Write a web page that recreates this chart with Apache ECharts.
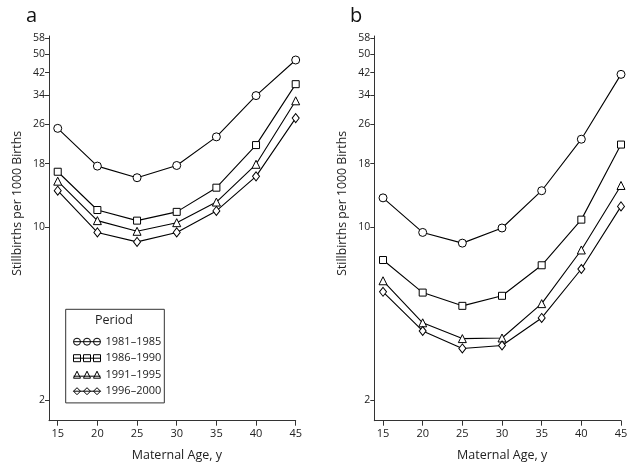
<!DOCTYPE html>
<html>
<head>
<meta charset="utf-8">
<script src="https://cdn.jsdelivr.net/npm/echarts@6/dist/echarts.min.js"></script>
<style>html,body{margin:0;padding:0;background:#fff}#c{width:640px;height:468px}</style>
</head>
<body>
<div id="c"></div>
<script>
// ---- data ----
var ages = [15, 20, 25, 30, 35, 40, 45];
var periods = ['1981\u20131985', '1986\u20131990', '1991\u20131995', '1996\u20132000'];
var a1981 = [25.0, 17.6, 15.8, 17.7, 23.1, 33.9, 47.2];
var a1986 = [16.7, 11.7, 10.6, 11.5, 14.4, 21.4, 37.7];
var a1991 = [15.3, 10.6, 9.6, 10.4, 12.6, 17.9, 32.3];
var a1996 = [14.0, 9.5, 8.7, 9.5, 11.6, 16.0, 27.5];
var b1981 = [13.1, 9.5, 8.6, 9.9, 14.0, 22.6, 41.3];
var b1986 = [7.35, 5.43, 4.8, 5.27, 7.0, 10.7, 21.5];
var b1991 = [6.06, 4.1, 3.54, 3.56, 4.9, 8.07, 14.7];
var b1996 = [5.47, 3.8, 3.23, 3.32, 4.29, 6.76, 12.1];
var yTicks = [2, 10, 18, 26, 34, 42, 50, 58];
var xTicks = [15, 20, 25, 30, 35, 40, 45];
var panelLabels = ['a', 'b'];
var yName = 'Stillbirths per 1000 Births';
var xName = 'Maternal Age, y';
var legendTitle = 'Period';

// ---- styling ----
var FONT = '"Open Sans", "DejaVu Sans", sans-serif';
var symbols = ['circle', 'rect', 'triangle', 'diamond'];
var symbolSizes = [8, 7, 8, [7, 9]];
var legendIcons = [
  'path://M0 3.5L27 3.5M0 3.5A3.5 3.5 0 1 0 7 3.5A3.5 3.5 0 1 0 0 3.5M10 3.5A3.5 3.5 0 1 0 17 3.5A3.5 3.5 0 1 0 10 3.5M20 3.5A3.5 3.5 0 1 0 27 3.5A3.5 3.5 0 1 0 20 3.5',
  'path://M0 3.5L27 3.5M0 0L7 0L7 7L0 7ZM10 0L17 0L17 7L10 7ZM20 0L27 0L27 7L20 7Z',
  'path://M0 5L27 5M3.5 0L7 7L0 7ZM13.5 0L17 7L10 7ZM23.5 0L27 7L20 7Z',
  'path://M0 3.5L27 3.5M3.5 0L7 3.5L3.5 7L0 3.5ZM13.5 0L17 3.5L13.5 7L10 3.5ZM23.5 0L27 3.5L23.5 7L20 3.5Z'
];
var panelData = [[a1981, a1986, a1991, a1996], [b1981, b1986, b1991, b1996]];

function pairs(xs, ys) { return xs.map(function (x, i) { return [x, ys[i]]; }); }

var grids = [
  { left: 49, top: 36, width: 246.7, height: 384.7 },
  { left: 374.3, top: 36, width: 246.7, height: 384.7 }
];

var xAxes = [], yAxes = [], series = [];
for (var g = 0; g < 2; g++) {
  xAxes.push({
    gridIndex: g, type: 'value', min: 13.9, max: 45,
    name: xName, nameLocation: 'middle', nameGap: 28,
    nameTextStyle: { fontFamily: FONT, fontSize: 12.5, color: '#222', padding: [0, 0, 0, 9] },
    axisLine: { show: true, lineStyle: { color: '#333', width: 1 } },
    axisTick: { show: true, length: 5, customValues: xTicks, lineStyle: { color: '#333' } },
    axisLabel: { customValues: xTicks, margin: 8, fontFamily: FONT, fontSize: 11, color: '#222' },
    splitLine: { show: false }
  });
  yAxes.push({
    gridIndex: g, type: 'log', logBase: 10, min: 1.65, max: 59,
    name: yName, nameLocation: 'middle', nameGap: 26, nameRotate: 90,
    nameTextStyle: { fontFamily: FONT, fontSize: 12.3, color: '#222', padding: [0, 0, 0, 50] },
    axisLine: { show: true, lineStyle: { color: '#333', width: 1 } },
    axisTick: { show: true, length: 4, customValues: yTicks, lineStyle: { color: '#333' } },
    minorTick: { show: false },
    axisLabel: { customValues: yTicks, margin: 4, fontFamily: FONT, fontSize: 10.5, color: '#222' },
    splitLine: { show: false }
  });
  for (var s = 0; s < 4; s++) {
    series.push({
      name: periods[s], type: 'line', xAxisIndex: g, yAxisIndex: g,
      data: pairs(ages, panelData[g][s]),
      symbol: symbols[s], symbolSize: symbolSizes[s], showSymbol: true,
      lineStyle: { color: '#000', width: 1.1 },
      itemStyle: { color: '#fff', borderColor: '#000', borderWidth: 1 },
      emphasis: { disabled: true },
      animation: false
    });
  }
}

var legendData = periods.map(function (p, i) {
  return { name: p, icon: legendIcons[i], itemStyle: { color: '#fff', borderColor: '#000', borderWidth: 1 } };
});

var chart = echarts.init(document.getElementById('c'));
chart.setOption({
  backgroundColor: '#fff',
  animation: false,
  title: [
    { text: panelLabels[0], left: 21, top: 1, textStyle: { fontFamily: FONT, fontSize: 20, fontWeight: 'normal', color: '#111' } },
    { text: panelLabels[1], left: 345, top: 1, textStyle: { fontFamily: FONT, fontSize: 20, fontWeight: 'normal', color: '#111' } }
  ],
  grid: grids,
  xAxis: xAxes,
  yAxis: yAxes,
  legend: {
    data: legendData,
    orient: 'vertical', left: 65.7, top: 309.3,
    itemWidth: 27, itemHeight: 7, itemGap: 2.5,
    padding: [25.4, 3, 4.7, 7.3],
    borderColor: '#333', borderWidth: 1,
    selectedMode: false,
    textStyle: { fontFamily: FONT, fontSize: 11, color: '#222', lineHeight: 14 }
  },
  graphic: [
    { type: 'text', left: 95, top: 314, style: { text: legendTitle, font: '12.5px ' + FONT, fill: '#222' } }
  ],
  series: series
});
</script>
</body>
</html>
